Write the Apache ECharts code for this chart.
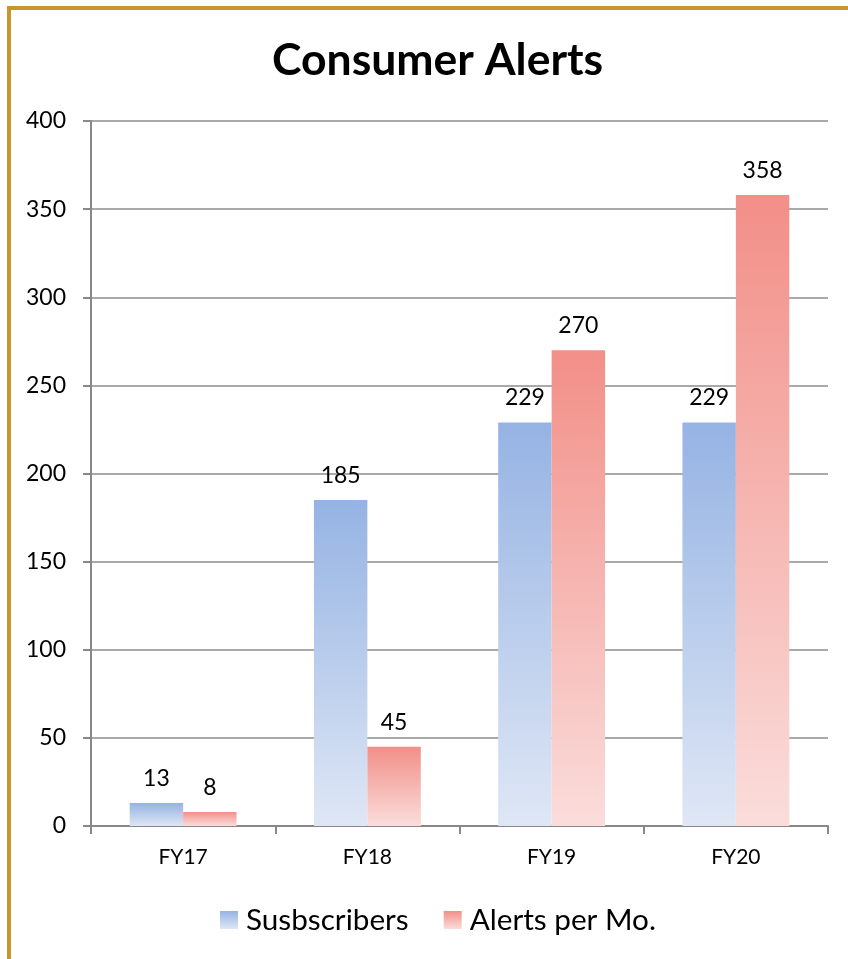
<!DOCTYPE html>
<html><head><meta charset="utf-8">
<script src="https://cdn.jsdelivr.net/npm/echarts@6/dist/echarts.min.js"></script>
<style>html,body{margin:0;padding:0;background:#fff;}#c{width:848px;height:959px;}</style>
</head><body><div id="c"></div>
<script>
const categories = ['FY17', 'FY18', 'FY19', 'FY20'];
const subscribers = [13, 185, 229, 229];
const alertsPerMo = [8, 45, 270, 358];
const seriesNames = ['Susbscribers', 'Alerts per Mo.'];
const yTicks = {min: 0, max: 400, interval: 50};

const FONT = 'Lato, "Noto Sans", sans-serif';
const chart = echarts.init(document.getElementById('c'));
function grad(top, bottom) {
  return new echarts.graphic.LinearGradient(0, 0, 0, 1, [{offset: 0, color: top}, {offset: 1, color: bottom}]);
}
const labelCfg = {show: true, position: 'top', distance: 13, fontSize: 23, color: '#000', fontFamily: FONT};
chart.setOption({
  animation: false,
  title: {text: 'Consumer Alerts', left: 267, top: 33, textStyle: {fontSize: 44.5, fontWeight: 'bold', color: '#000', fontFamily: FONT}},
  graphic: [{type: 'rect', shape: {x: 9, y: 8, width: 1000, height: 1100}, style: {fill: 'none', stroke: '#C8962F', lineWidth: 4}}],
  grid: {left: 91, right: 20, top: 121, bottom: 133, containLabel: false},
  legend: {bottom: 19, left: 215, itemWidth: 18, itemHeight: 18, itemGap: 35, icon: 'rect',
    textStyle: {fontSize: 29.7, color: '#000', fontFamily: FONT, padding: [0, 0, 0, 3]}, data: seriesNames},
  xAxis: {type: 'category', data: categories, boundaryGap: true,
    axisLine: {lineStyle: {color: '#888', width: 2}},
    axisTick: {show: true, length: 8, lineStyle: {color: '#888', width: 2}},
    axisLabel: {fontSize: 21, color: '#000', margin: 21, fontFamily: FONT}},
  yAxis: {type: 'value', min: yTicks.min, max: yTicks.max, interval: yTicks.interval,
    axisLine: {show: true, lineStyle: {color: '#888', width: 2}},
    axisTick: {show: true, length: 8, lineStyle: {color: '#888', width: 2}},
    splitLine: {lineStyle: {color: '#8c8c8c', width: 1.5}},
    axisLabel: {fontSize: 23, color: '#000', margin: 25, fontFamily: FONT}},
  series: [
    {name: seriesNames[0], type: 'bar', data: subscribers, barGap: '0%', barCategoryGap: '42%',
      itemStyle: {color: grad('#95B3E3', '#DFE7F5')}, label: labelCfg},
    {name: seriesNames[1], type: 'bar', data: alertsPerMo,
      itemStyle: {color: grad('#F28F88', '#FADDDB')}, label: labelCfg}
  ]
});
</script></body></html>
